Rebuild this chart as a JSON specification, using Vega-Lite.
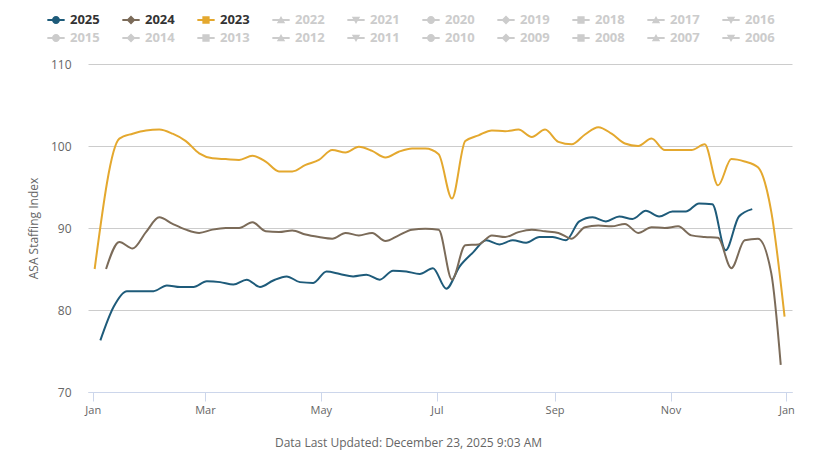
{
  "$schema": "https://vega.github.io/schema/vega-lite/v6.json",
  "width": 704,
  "height": 328,
  "autosize": {"type": "none"},
  "padding": {"left": 88, "top": 64, "right": 30, "bottom": 73},
  "background": "#ffffff",
  "config": {"view": {"stroke": null}, "font": "Open Sans"},
  "data": {"values": [
    {"y":"2025","d":"2025-01-05","v":76.3},{"y":"2025","d":"2025-01-12","v":80.4},{"y":"2025","d":"2025-01-19","v":82.3},{"y":"2025","d":"2025-01-26","v":82.3},
    {"y":"2025","d":"2025-02-02","v":82.3},{"y":"2025","d":"2025-02-09","v":83.0},{"y":"2025","d":"2025-02-16","v":82.8},{"y":"2025","d":"2025-02-23","v":82.8},
    {"y":"2025","d":"2025-03-02","v":83.5},{"y":"2025","d":"2025-03-09","v":83.4},{"y":"2025","d":"2025-03-16","v":83.1},{"y":"2025","d":"2025-03-23","v":83.7},
    {"y":"2025","d":"2025-03-30","v":82.8},{"y":"2025","d":"2025-04-06","v":83.6},{"y":"2025","d":"2025-04-13","v":84.1},{"y":"2025","d":"2025-04-20","v":83.4},
    {"y":"2025","d":"2025-04-27","v":83.3},{"y":"2025","d":"2025-05-04","v":84.7},{"y":"2025","d":"2025-05-11","v":84.4},{"y":"2025","d":"2025-05-18","v":84.1},
    {"y":"2025","d":"2025-05-25","v":84.3},{"y":"2025","d":"2025-06-01","v":83.7},{"y":"2025","d":"2025-06-08","v":84.8},{"y":"2025","d":"2025-06-15","v":84.7},
    {"y":"2025","d":"2025-06-22","v":84.4},{"y":"2025","d":"2025-06-29","v":85.1},{"y":"2025","d":"2025-07-06","v":82.6},{"y":"2025","d":"2025-07-13","v":85.3},
    {"y":"2025","d":"2025-07-20","v":87.0},{"y":"2025","d":"2025-07-27","v":88.5},{"y":"2025","d":"2025-08-03","v":88.0},{"y":"2025","d":"2025-08-10","v":88.5},
    {"y":"2025","d":"2025-08-17","v":88.2},{"y":"2025","d":"2025-08-24","v":88.9},{"y":"2025","d":"2025-08-31","v":88.9},{"y":"2025","d":"2025-09-07","v":88.5},
    {"y":"2025","d":"2025-09-14","v":90.8},{"y":"2025","d":"2025-09-21","v":91.3},{"y":"2025","d":"2025-09-28","v":90.8},{"y":"2025","d":"2025-10-05","v":91.4},
    {"y":"2025","d":"2025-10-12","v":91.1},{"y":"2025","d":"2025-10-19","v":92.1},{"y":"2025","d":"2025-10-26","v":91.4},{"y":"2025","d":"2025-11-02","v":92.0},
    {"y":"2025","d":"2025-11-09","v":92.0},{"y":"2025","d":"2025-11-16","v":93.0},{"y":"2025","d":"2025-11-23","v":92.9},{"y":"2025","d":"2025-11-30","v":87.3},
    {"y":"2025","d":"2025-12-07","v":91.4},{"y":"2025","d":"2025-12-14","v":92.3},

    {"y":"2024","d":"2025-01-08","v":85.0},{"y":"2024","d":"2025-01-15","v":88.3},{"y":"2024","d":"2025-01-22","v":87.5},{"y":"2024","d":"2025-01-29","v":89.5},
    {"y":"2024","d":"2025-02-05","v":91.3},{"y":"2024","d":"2025-02-12","v":90.5},{"y":"2024","d":"2025-02-19","v":89.8},{"y":"2024","d":"2025-02-26","v":89.4},
    {"y":"2024","d":"2025-03-05","v":89.8},{"y":"2024","d":"2025-03-12","v":90.0},{"y":"2024","d":"2025-03-19","v":90.0},{"y":"2024","d":"2025-03-26","v":90.7},
    {"y":"2024","d":"2025-04-02","v":89.6},{"y":"2024","d":"2025-04-09","v":89.5},{"y":"2024","d":"2025-04-16","v":89.7},{"y":"2024","d":"2025-04-23","v":89.2},
    {"y":"2024","d":"2025-04-30","v":88.9},{"y":"2024","d":"2025-05-07","v":88.7},{"y":"2024","d":"2025-05-14","v":89.4},{"y":"2024","d":"2025-05-21","v":89.1},
    {"y":"2024","d":"2025-05-28","v":89.4},{"y":"2024","d":"2025-06-04","v":88.4},{"y":"2024","d":"2025-06-11","v":89.1},{"y":"2024","d":"2025-06-18","v":89.8},
    {"y":"2024","d":"2025-06-25","v":89.9},{"y":"2024","d":"2025-07-02","v":89.8},{"y":"2024","d":"2025-07-09","v":83.7},{"y":"2024","d":"2025-07-16","v":87.9},
    {"y":"2024","d":"2025-07-23","v":88.0},{"y":"2024","d":"2025-07-30","v":89.1},{"y":"2024","d":"2025-08-06","v":88.9},{"y":"2024","d":"2025-08-13","v":89.5},
    {"y":"2024","d":"2025-08-20","v":89.8},{"y":"2024","d":"2025-08-27","v":89.6},{"y":"2024","d":"2025-09-03","v":89.4},{"y":"2024","d":"2025-09-10","v":88.7},
    {"y":"2024","d":"2025-09-17","v":90.1},{"y":"2024","d":"2025-09-24","v":90.3},{"y":"2024","d":"2025-10-01","v":90.2},{"y":"2024","d":"2025-10-08","v":90.5},
    {"y":"2024","d":"2025-10-15","v":89.4},{"y":"2024","d":"2025-10-22","v":90.1},{"y":"2024","d":"2025-10-29","v":90.0},{"y":"2024","d":"2025-11-05","v":90.2},
    {"y":"2024","d":"2025-11-12","v":89.1},{"y":"2024","d":"2025-11-19","v":88.9},{"y":"2024","d":"2025-11-26","v":88.8},{"y":"2024","d":"2025-12-03","v":85.1},
    {"y":"2024","d":"2025-12-10","v":88.5},{"y":"2024","d":"2025-12-17","v":88.7},{"y":"2024","d":"2025-12-24","v":84.5},{"y":"2024","d":"2025-12-29","v":73.3},

    {"y":"2023","d":"2025-01-02","v":85.0},{"y":"2023","d":"2025-01-15","v":100.9},{"y":"2023","d":"2025-01-22","v":101.5},{"y":"2023","d":"2025-01-29","v":101.9},
    {"y":"2023","d":"2025-02-05","v":102.0},{"y":"2023","d":"2025-02-12","v":101.5},{"y":"2023","d":"2025-02-19","v":100.6},{"y":"2023","d":"2025-02-26","v":99.1},
    {"y":"2023","d":"2025-03-05","v":98.5},{"y":"2023","d":"2025-03-12","v":98.4},{"y":"2023","d":"2025-03-19","v":98.3},{"y":"2023","d":"2025-03-26","v":98.8},
    {"y":"2023","d":"2025-04-02","v":98.1},{"y":"2023","d":"2025-04-09","v":96.9},{"y":"2023","d":"2025-04-16","v":96.9},{"y":"2023","d":"2025-04-23","v":97.7},
    {"y":"2023","d":"2025-04-30","v":98.3},{"y":"2023","d":"2025-05-07","v":99.5},{"y":"2023","d":"2025-05-14","v":99.2},{"y":"2023","d":"2025-05-21","v":99.9},
    {"y":"2023","d":"2025-05-28","v":99.4},{"y":"2023","d":"2025-06-04","v":98.6},{"y":"2023","d":"2025-06-11","v":99.3},{"y":"2023","d":"2025-06-18","v":99.7},
    {"y":"2023","d":"2025-06-25","v":99.7},{"y":"2023","d":"2025-07-02","v":99.0},{"y":"2023","d":"2025-07-09","v":93.6},{"y":"2023","d":"2025-07-16","v":100.6},
    {"y":"2023","d":"2025-07-23","v":101.3},{"y":"2023","d":"2025-07-30","v":101.9},{"y":"2023","d":"2025-08-06","v":101.8},{"y":"2023","d":"2025-08-13","v":102.0},
    {"y":"2023","d":"2025-08-20","v":101.1},{"y":"2023","d":"2025-08-27","v":102.0},{"y":"2023","d":"2025-09-03","v":100.5},{"y":"2023","d":"2025-09-10","v":100.2},
    {"y":"2023","d":"2025-09-17","v":101.4},{"y":"2023","d":"2025-09-24","v":102.3},{"y":"2023","d":"2025-10-01","v":101.5},{"y":"2023","d":"2025-10-08","v":100.3},
    {"y":"2023","d":"2025-10-15","v":100.0},{"y":"2023","d":"2025-10-22","v":100.9},{"y":"2023","d":"2025-10-29","v":99.5},{"y":"2023","d":"2025-11-05","v":99.5},
    {"y":"2023","d":"2025-11-12","v":99.5},{"y":"2023","d":"2025-11-19","v":100.2},{"y":"2023","d":"2025-11-26","v":95.2},{"y":"2023","d":"2025-12-03","v":98.4},
    {"y":"2023","d":"2025-12-10","v":98.1},{"y":"2023","d":"2025-12-17","v":97.4},{"y":"2023","d":"2025-12-24","v":92.0},{"y":"2023","d":"2025-12-31","v":79.2}
  ]},
  "layer": [
    {
      "mark": {"type": "line", "interpolate": "monotone", "strokeWidth": 2},
      "encoding": {
        "x": {
          "field": "d", "type": "temporal",
          "scale": {"type": "utc", "domain": [
            {"year": 2024, "month": 12, "date": 29, "hours": 12, "utc": true},
            {"year": 2026, "month": 1, "date": 3, "hours": 22, "utc": true}
          ]},
          "axis": {
            "format": "%b",
            "tickCount": {"interval": "month", "step": 2},
            "labelFlush": false,
            "grid": false,
            "domainColor": "#ccd6eb",
            "tickColor": "#ccd6eb",
            "tickSize": 9,
            "labelColor": "#666666",
            "labelFontSize": 11,
            "labelPadding": 3,
            "title": "Data Last Updated: December 23, 2025 9:03 AM",
            "titleColor": "#666666",
            "titleFontSize": 12,
            "titleFontWeight": "normal",
            "titleX": 320,
            "titleY": 50,
            "titleBaseline": "middle",
            "titleAlign": "center"
          }
        },
        "y": {
          "field": "v", "type": "quantitative",
          "scale": {"domain": [70, 110], "nice": false, "zero": false},
          "axis": {
            "values": [70, 80, 90, 100, 110],
            "grid": true,
            "gridColor": "#cccccc",
            "domain": false,
            "ticks": false,
            "labelColor": "#666666",
            "labelFontSize": 12,
            "labelPadding": 17,
            "title": "ASA Staffing Index",
            "titleColor": "#666666",
            "titleFontSize": 12,
            "titleFontWeight": "normal",
            "titlePadding": 10
          }
        },
        "color": {
          "field": "y", "type": "nominal",
          "scale": {
            "domain": ["2025","2024","2023","2022","2021","2020","2019","2018","2017","2016","2015","2014","2013","2012","2011","2010","2009","2008","2007","2006"],
            "range": ["#1e5b7a","#7b6b59","#e4a82e","#cccccc","#cccccc","#cccccc","#cccccc","#cccccc","#cccccc","#cccccc","#cccccc","#cccccc","#cccccc","#cccccc","#cccccc","#cccccc","#cccccc","#cccccc","#cccccc","#cccccc"]
          },
          "legend": {
            "orient": "none", "legendX": -41, "legendY": -53,
            "direction": "horizontal", "columns": 10, "title": null,
            "symbolSize": 300, "symbolStrokeWidth": 0, "symbolOpacity": 1,
            "labelFontSize": 13, "labelFontWeight": "bold", "labelOffset": 5,
            "columnPadding": 22, "rowPadding": 2, "gridAlign": "all", "padding": 0,
            "labelColor": "#333333",
            "encode": {"labels": {"update": {"fill": {"signal": "indexof(['2025','2024','2023'], datum.value) >= 0 ? '#333333' : '#cccccc'"}}}}
          }
        }
      }
    },
    {
      "transform": [{"filter": "false"}],
      "mark": {"type": "point", "filled": true, "opacity": 1},
      "encoding": {
        "x": {"field": "d", "type": "temporal"},
        "y": {"field": "v", "type": "quantitative"},
        "color": {
          "field": "y", "type": "nominal",
          "legend": {
            "orient": "none", "legendX": -41, "legendY": -53,
            "direction": "horizontal", "columns": 10, "title": null,
            "symbolSize": 300, "symbolStrokeWidth": 0, "symbolOpacity": 1,
            "labelFontSize": 13, "labelFontWeight": "bold", "labelOffset": 5,
            "columnPadding": 22, "rowPadding": 2, "gridAlign": "all", "padding": 0,
            "labelColor": "#333333",
            "encode": {"labels": {"update": {"fill": {"signal": "indexof(['2025','2024','2023'], datum.value) >= 0 ? '#333333' : '#cccccc'"}}}}
          }
        },
        "shape": {
          "field": "y", "type": "nominal",
          "scale": {
            "domain": ["2025","2024","2023","2022","2021","2020","2019","2018","2017","2016","2015","2014","2013","2012","2011","2010","2009","2008","2007","2006"],
            "range": [
              "M-1,-0.11H1V0.11H-1ZM-0.46,0A0.46,0.46 0 1,1 0.46,0A0.46,0.46 0 1,1 -0.46,0Z",
              "M-1,-0.11H1V0.11H-1ZM0,-0.52L0.52,0L0,0.52L-0.52,0Z",
              "M-1,-0.11H1V0.11H-1ZM-0.42,-0.42H0.42V0.42H-0.42Z",
              "M-1,-0.11H1V0.11H-1ZM0,-0.46L0.48,0.38H-0.48Z",
              "M-1,-0.11H1V0.11H-1ZM-0.48,-0.38H0.48L0,0.46Z",
              "M-1,-0.11H1V0.11H-1ZM-0.46,0A0.46,0.46 0 1,1 0.46,0A0.46,0.46 0 1,1 -0.46,0Z",
              "M-1,-0.11H1V0.11H-1ZM0,-0.52L0.52,0L0,0.52L-0.52,0Z",
              "M-1,-0.11H1V0.11H-1ZM-0.42,-0.42H0.42V0.42H-0.42Z",
              "M-1,-0.11H1V0.11H-1ZM0,-0.46L0.48,0.38H-0.48Z",
              "M-1,-0.11H1V0.11H-1ZM-0.48,-0.38H0.48L0,0.46Z",
              "M-1,-0.11H1V0.11H-1ZM-0.46,0A0.46,0.46 0 1,1 0.46,0A0.46,0.46 0 1,1 -0.46,0Z",
              "M-1,-0.11H1V0.11H-1ZM0,-0.52L0.52,0L0,0.52L-0.52,0Z",
              "M-1,-0.11H1V0.11H-1ZM-0.42,-0.42H0.42V0.42H-0.42Z",
              "M-1,-0.11H1V0.11H-1ZM0,-0.46L0.48,0.38H-0.48Z",
              "M-1,-0.11H1V0.11H-1ZM-0.48,-0.38H0.48L0,0.46Z",
              "M-1,-0.11H1V0.11H-1ZM-0.46,0A0.46,0.46 0 1,1 0.46,0A0.46,0.46 0 1,1 -0.46,0Z",
              "M-1,-0.11H1V0.11H-1ZM0,-0.52L0.52,0L0,0.52L-0.52,0Z",
              "M-1,-0.11H1V0.11H-1ZM-0.42,-0.42H0.42V0.42H-0.42Z",
              "M-1,-0.11H1V0.11H-1ZM0,-0.46L0.48,0.38H-0.48Z",
              "M-1,-0.11H1V0.11H-1ZM-0.48,-0.38H0.48L0,0.46Z"
            ]
          },
          "legend": {
            "orient": "none", "legendX": -41, "legendY": -53,
            "direction": "horizontal", "columns": 10, "title": null,
            "symbolSize": 300, "symbolStrokeWidth": 0, "symbolOpacity": 1,
            "labelFontSize": 13, "labelFontWeight": "bold", "labelOffset": 5,
            "columnPadding": 22, "rowPadding": 2, "gridAlign": "all", "padding": 0,
            "labelColor": "#333333",
            "encode": {"labels": {"update": {"fill": {"signal": "indexof(['2025','2024','2023'], datum.value) >= 0 ? '#333333' : '#cccccc'"}}}}
          }
        }
      }
    }
  ]
}
